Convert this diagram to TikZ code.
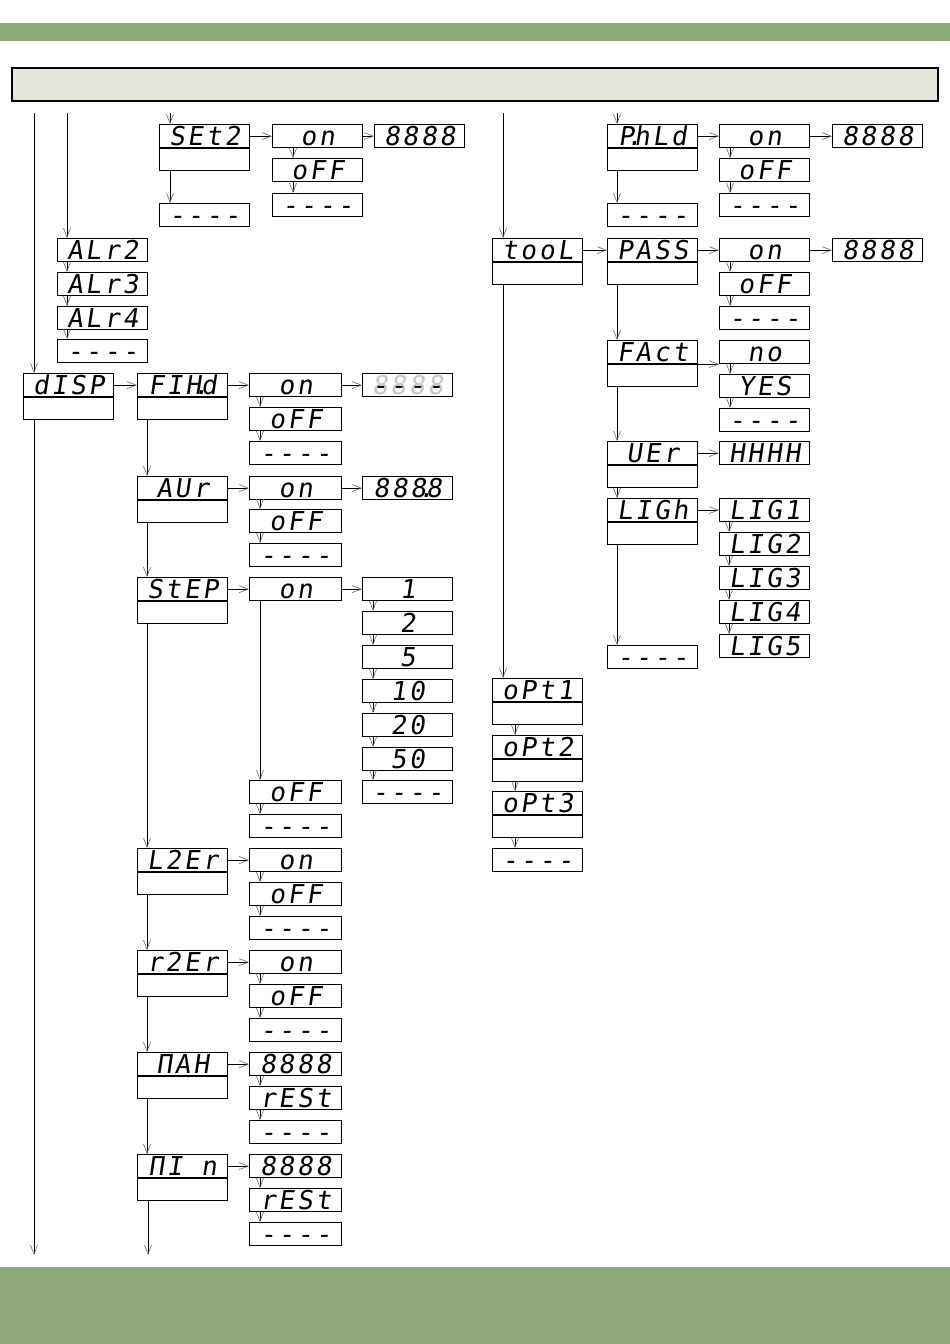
\documentclass[tikz,border=0pt]{standalone}
\usepackage{fontspec}
\usetikzlibrary{arrows.meta}
\newfontfamily\seg[LetterSpace=11,FakeSlant=0.15]{DejaVu Sans Mono}
\definecolor{bandgreen}{RGB}{141,170,120}
\definecolor{panelgray}{RGB}{227,230,219}
\tikzset{
 segbox/.style={draw, line width=1.2pt, minimum width=90, minimum height=23, inner sep=0pt,
   anchor=north west, text height=18.5pt, text depth=0pt, font=\seg\fontsize{26}{26}\selectfont},
 lowbox/.style={draw, line width=1.2pt, minimum width=90, minimum height=22, inner sep=0pt, anchor=north west},
 arr/.style={line width=0.8pt, -{Straight Barb[length=9pt,width=7pt,line width=0.6pt,color=black!60]}},
}
\begin{document}
\begin{tikzpicture}[x=1pt,y=-1pt]
\useasboundingbox (0,0) rectangle (950,1344);
% bands
\fill[bandgreen] (0,23) rectangle (950,41);
\fill[bandgreen] (0,1267) rectangle (950,1344);
\draw[line width=1.2pt, fill=panelgray] (12,68) rectangle (938,101);

% ---------- left part ----------
\node[segbox] (SEt2) at (159,124) {SEt2};
\node[lowbox] (SEt2L) at (SEt2.south west) {};
\node[segbox] (s2dash) at (159,203) {----};
\node[segbox] (s2on) at (272,124) {on};
\node[segbox] (s2off) at (272,158) {oFF};
\node[segbox] (s2dsh) at (272,193) {----};
\node[segbox] (s28) at (374,124) {8888};

\node[segbox] (ALr2) at (57,238) {ALr2};
\node[segbox] (ALr3) at (57,272) {ALr3};
\node[segbox] (ALr4) at (57,306) {ALr4};
\node[segbox] (aldsh) at (57,339) {----};

\node[segbox] (disp) at (23,373) {dISP};
\node[lowbox] (dispL) at (disp.south west) {};
\node[segbox] (FIHd) at (137,373) {FIH\makebox[0pt]{.}d};
\node[lowbox] (FIHdL) at (FIHd.south west) {};
\node[segbox,minimum width=92] (fon) at (249,373) {on};
\node[segbox,minimum width=92] (foff) at (249,407) {oFF};
\node[segbox,minimum width=92] (fdsh) at (249,441) {----};
\node[segbox,text=black!22] (f8) at (362,373) {8888};
\node[segbox,draw=none] (f8d) at (362,373) {----};

\node[segbox] (AUr) at (137,476) {AUr};
\node[lowbox] (AUrL) at (AUr.south west) {};
\node[segbox,minimum width=92] (aon) at (249,476) {on};
\node[segbox,minimum width=92] (aoff) at (249,509) {oFF};
\node[segbox,minimum width=92] (adsh) at (249,543) {----};
\node[segbox] (a8) at (362,476) {888\makebox[0pt]{.}8};

\node[segbox] (StEP) at (137,577) {StEP};
\node[lowbox] (StEPL) at (StEP.south west) {};
\node[segbox,minimum width=92] (ston) at (249,577) {on};
\node[segbox] (st1) at (362,577) {1};
\node[segbox] (st2) at (362,611) {2};
\node[segbox] (st5) at (362,645) {5};
\node[segbox] (st10) at (362,679) {10};
\node[segbox] (st20) at (362,713) {20};
\node[segbox] (st50) at (362,747) {50};
\node[segbox] (stdsh) at (362,780) {----};
\node[segbox,minimum width=92] (stoff) at (249,780) {oFF};
\node[segbox,minimum width=92] (stdsh2) at (249,814) {----};

\node[segbox] (L2Er) at (137,848) {L2Er};
\node[lowbox] (L2ErL) at (L2Er.south west) {};
\node[segbox,minimum width=92] (lon) at (249,848) {on};
\node[segbox,minimum width=92] (loff) at (249,882) {oFF};
\node[segbox,minimum width=92] (ldsh) at (249,916) {----};

\node[segbox] (r2Er) at (137,950) {r2Er};
\node[lowbox] (r2ErL) at (r2Er.south west) {};
\node[segbox,minimum width=92] (ron) at (249,950) {on};
\node[segbox,minimum width=92] (roff) at (249,984) {oFF};
\node[segbox,minimum width=92] (rdsh) at (249,1018) {----};

\node[segbox] (MAH) at (137,1052) {ΠAH};
\node[lowbox] (MAHL) at (MAH.south west) {};
\node[segbox,minimum width=92] (m8) at (249,1052) {8888};
\node[segbox,minimum width=92] (mrst) at (249,1086) {rESt};
\node[segbox,minimum width=92] (mdsh) at (249,1120) {----};

\node[segbox] (MIn) at (137,1154) {ΠI n};
\node[lowbox] (MInL) at (MIn.south west) {};
\node[segbox,minimum width=92] (n8) at (249,1154) {8888};
\node[segbox,minimum width=92] (nrst) at (249,1188) {rESt};
\node[segbox,minimum width=92] (ndsh) at (249,1222) {----};

% ---------- right part ----------
\node[segbox] (PhLd) at (607,124) {P\makebox[0pt]{.}hLd};
\node[lowbox] (PhLdL) at (PhLd.south west) {};
\node[segbox] (pdsh) at (607,203) {----};
\node[segbox] (pon) at (719,124) {on};
\node[segbox] (poff) at (719,158) {oFF};
\node[segbox] (pdsh2) at (719,193) {----};
\node[segbox] (p8) at (832,124) {8888};

\node[segbox] (tool) at (492,238) {tooL};
\node[lowbox] (toolL) at (tool.south west) {};
\node[segbox] (PASS) at (607,238) {PASS};
\node[lowbox] (PASSL) at (PASS.south west) {};
\node[segbox] (paon) at (719,238) {on};
\node[segbox] (paoff) at (719,272) {oFF};
\node[segbox] (padsh) at (719,306) {----};
\node[segbox] (pa8) at (832,238) {8888};

\node[segbox] (FAct) at (607,340) {FAct};
\node[lowbox] (FActL) at (FAct.south west) {};
\node[segbox] (no) at (719,340) {no};
\node[segbox] (yes) at (719,374) {YES};
\node[segbox] (fadsh) at (719,408) {----};

\node[segbox] (UEr) at (607,441) {UEr};
\node[lowbox] (UErL) at (UEr.south west) {};
\node[segbox] (HHHH) at (719,441) {HHHH};

\node[segbox] (LIGh) at (607,498) {LIGh};
\node[lowbox] (LIGhL) at (LIGh.south west) {};
\node[segbox] (LIG1) at (719,498) {LIG1};
\node[segbox] (LIG2) at (719,532) {LIG2};
\node[segbox] (LIG3) at (719,566) {LIG3};
\node[segbox] (LIG4) at (719,600) {LIG4};
\node[segbox] (LIG5) at (719,634) {LIG5};
\node[segbox] (lidsh) at (607,645) {----};

\node[segbox] (oPt1) at (492,678) {oPt1};
\node[lowbox] (oPt1L) at (oPt1.south west) {};
\node[segbox] (oPt2) at (492,735) {oPt2};
\node[lowbox] (oPt2L) at (oPt2.south west) {};
\node[segbox] (oPt3) at (492,791) {oPt3};
\node[lowbox] (oPt3L) at (oPt3.south west) {};
\node[segbox] (odsh) at (492,848) {----};

% ---------- connectors ----------
\coordinate (t1) at (34,113);
\coordinate (t2) at (67,113);
\coordinate (t3) at (170,113);
\coordinate (t4) at (503,113);
\coordinate (t5) at (617,113);
\coordinate (b1) at (34,1255);
\coordinate (b2) at (148,1255);
\draw[arr] (t1) -- (t1 |- disp.north);
\draw[arr] (t2) -- (t2 |- ALr2.north);
\draw[arr] (t3) -- (t3 |- SEt2.north);
\draw[arr] (t4) -- (t4 |- tool.north);
\draw[arr] (t5) -- (t5 |- PhLd.north);
\draw[arr] (dispL.south -| b1) -- (b1);
\draw[arr] (MInL.south -| b2) -- (b2);

% SEt2
\draw[arr] (SEt2.east) -- (s2on.west);
\draw[arr] (s2on.east) -- (s28.west);
\draw[arr] ([xshift=11pt]SEt2L.south west) -- ([xshift=11pt]s2dash.north west);
\draw[arr] ([xshift=21pt]s2on.south west) -- ([xshift=21pt]s2off.north west);
\draw[arr] ([xshift=21pt]s2off.south west) -- ([xshift=21pt]s2dsh.north west);
% ALr
\draw[arr] ([xshift=10pt]ALr2.south west) -- ([xshift=10pt]ALr3.north west);
\draw[arr] ([xshift=10pt]ALr3.south west) -- ([xshift=10pt]ALr4.north west);
\draw[arr] ([xshift=10pt]ALr4.south west) -- ([xshift=10pt]aldsh.north west);
% disp row
\draw[arr] (disp.east) -- (FIHd.west);
\draw[arr] (FIHd.east) -- (fon.west);
\draw[arr] (fon.east) -- (f8.west);
\draw[arr] ([xshift=11pt]fon.south west) -- ([xshift=11pt]foff.north west);
\draw[arr] ([xshift=11pt]foff.south west) -- ([xshift=11pt]fdsh.north west);
\draw[arr] ([xshift=10pt]FIHdL.south west) -- ([xshift=10pt]AUr.north west);
% AUr
\draw[arr] (AUr.east) -- (aon.west);
\draw[arr] (aon.east) -- (a8.west);
\draw[arr] ([xshift=11pt]aon.south west) -- ([xshift=11pt]aoff.north west);
\draw[arr] ([xshift=11pt]aoff.south west) -- ([xshift=11pt]adsh.north west);
\draw[arr] ([xshift=10pt]AUrL.south west) -- ([xshift=10pt]StEP.north west);
% StEP
\draw[arr] (StEP.east) -- (ston.west);
\draw[arr] (ston.east) -- (st1.west);
\draw[arr] ([xshift=11pt]st1.south west) -- ([xshift=11pt]st2.north west);
\draw[arr] ([xshift=11pt]st2.south west) -- ([xshift=11pt]st5.north west);
\draw[arr] ([xshift=11pt]st5.south west) -- ([xshift=11pt]st10.north west);
\draw[arr] ([xshift=11pt]st10.south west) -- ([xshift=11pt]st20.north west);
\draw[arr] ([xshift=11pt]st20.south west) -- ([xshift=11pt]st50.north west);
\draw[arr] ([xshift=11pt]st50.south west) -- ([xshift=11pt]stdsh.north west);
\draw[arr] ([xshift=11pt]ston.south west) -- ([xshift=11pt]stoff.north west);
\draw[arr] ([xshift=11pt]stoff.south west) -- ([xshift=11pt]stdsh2.north west);
\draw[arr] ([xshift=10pt]StEPL.south west) -- ([xshift=10pt]L2Er.north west);
% L2Er
\draw[arr] (L2Er.east) -- (lon.west);
\draw[arr] ([xshift=11pt]lon.south west) -- ([xshift=11pt]loff.north west);
\draw[arr] ([xshift=11pt]loff.south west) -- ([xshift=11pt]ldsh.north west);
\draw[arr] ([xshift=10pt]L2ErL.south west) -- ([xshift=10pt]r2Er.north west);
% r2Er
\draw[arr] (r2Er.east) -- (ron.west);
\draw[arr] ([xshift=11pt]ron.south west) -- ([xshift=11pt]roff.north west);
\draw[arr] ([xshift=11pt]roff.south west) -- ([xshift=11pt]rdsh.north west);
\draw[arr] ([xshift=10pt]r2ErL.south west) -- ([xshift=10pt]MAH.north west);
% MAH
\draw[arr] (MAH.east) -- (m8.west);
\draw[arr] ([xshift=11pt]m8.south west) -- ([xshift=11pt]mrst.north west);
\draw[arr] ([xshift=11pt]mrst.south west) -- ([xshift=11pt]mdsh.north west);
\draw[arr] ([xshift=10pt]MAHL.south west) -- ([xshift=10pt]MIn.north west);
% MIn
\draw[arr] (MIn.east) -- (n8.west);
\draw[arr] ([xshift=11pt]n8.south west) -- ([xshift=11pt]nrst.north west);
\draw[arr] ([xshift=11pt]nrst.south west) -- ([xshift=11pt]ndsh.north west);

% PhLd
\draw[arr] (PhLd.east) -- (pon.west);
\draw[arr] (pon.east) -- (p8.west);
\draw[arr] ([xshift=10pt]PhLdL.south west) -- ([xshift=10pt]pdsh.north west);
\draw[arr] ([xshift=11pt]pon.south west) -- ([xshift=11pt]poff.north west);
\draw[arr] ([xshift=11pt]poff.south west) -- ([xshift=11pt]pdsh2.north west);
% tool / PASS
\draw[arr] (tool.east) -- (PASS.west);
\draw[arr] (PASS.east) -- (paon.west);
\draw[arr] (paon.east) -- (pa8.west);
\draw[arr] ([xshift=11pt]paon.south west) -- ([xshift=11pt]paoff.north west);
\draw[arr] ([xshift=11pt]paoff.south west) -- ([xshift=11pt]padsh.north west);
\draw[arr] ([xshift=10pt]PASSL.south west) -- ([xshift=10pt]FAct.north west);
% FAct
\draw[arr] (FActL.north east) -- (FActL.north east -| no.west);
\draw[arr] ([xshift=11pt]no.south west) -- ([xshift=11pt]yes.north west);
\draw[arr] ([xshift=11pt]yes.south west) -- ([xshift=11pt]fadsh.north west);
\draw[arr] ([xshift=10pt]FActL.south west) -- ([xshift=10pt]UEr.north west);
% UEr
\draw[arr] (UEr.east) -- (HHHH.west);
\draw[arr] ([xshift=10pt]UErL.south west) -- ([xshift=10pt]LIGh.north west);
% LIGh
\draw[arr] (LIGh.east) -- (LIG1.west);
\draw[arr] ([xshift=10pt]LIG1.south west) -- ([xshift=10pt]LIG2.north west);
\draw[arr] ([xshift=10pt]LIG2.south west) -- ([xshift=10pt]LIG3.north west);
\draw[arr] ([xshift=10pt]LIG3.south west) -- ([xshift=10pt]LIG4.north west);
\draw[arr] ([xshift=10pt]LIG4.south west) -- ([xshift=10pt]LIG5.north west);
\draw[arr] ([xshift=10pt]LIGhL.south west) -- ([xshift=10pt]lidsh.north west);
% oPt
\draw[arr] ([xshift=11pt]toolL.south west) -- ([xshift=11pt]oPt1.north west);
\draw[arr] ([xshift=23pt]oPt1L.south west) -- ([xshift=23pt]oPt2.north west);
\draw[arr] ([xshift=23pt]oPt2L.south west) -- ([xshift=23pt]oPt3.north west);
\draw[arr] ([xshift=23pt]oPt3L.south west) -- ([xshift=23pt]odsh.north west);
\end{tikzpicture}
\end{document}
